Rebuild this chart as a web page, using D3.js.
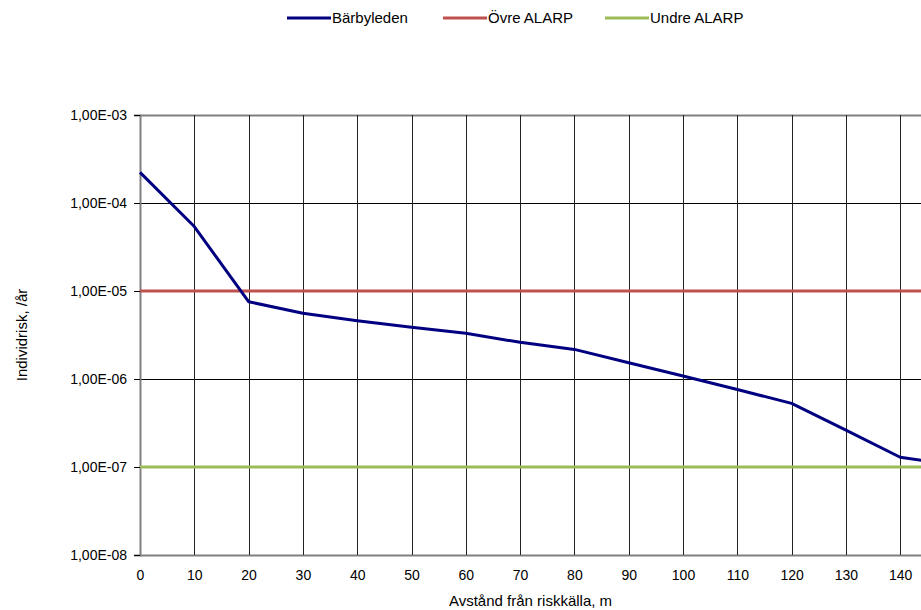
<!DOCTYPE html>
<html>
<head>
<meta charset="utf-8">
<script src="https://cdn.jsdelivr.net/npm/d3@7"></script>
<style>
  body { margin: 0; background: #fff; }
  svg text { font-family: "Liberation Sans", Arial, sans-serif; fill: #000; }
</style>
</head>
<body>
<div id="chart"></div>
<script>
// distances (m) and individual risk per year
const distances = [0, 10, 20, 30, 40, 50, 60, 70, 80, 90, 100, 110, 120, 130, 140, 150];
const barbyleden = [2.23e-4, 5.4e-5, 7.55e-6, 5.58e-6, 4.6e-6, 3.87e-6, 3.31e-6, 2.61e-6, 2.17e-6,
                    1.53e-6, 1.08e-6, 7.6e-7, 5.28e-7, 2.63e-7, 1.29e-7, 1.05e-7];
const ovreAlarp = 1e-5;
const undreAlarp = 1e-7;
const yTicks = [1e-3, 1e-4, 1e-5, 1e-6, 1e-7, 1e-8];
const xTicks = [0, 10, 20, 30, 40, 50, 60, 70, 80, 90, 100, 110, 120, 130, 140];
const seriesNames = ["Bärbyleden", "Övre ALARP", "Undre ALARP"];
const seriesColors = ["#000080", "#C0504D", "#9BBB59"];

(function() {
  const W = 921, H = 610;
  const left = 140, top = 115, bottom = 555;
  const step = 54.3; // px per 10 m

  const svg = d3.select("#chart").append("svg")
    .attr("width", W)
    .attr("height", H);

  const x = d3.scaleLinear().domain([0, 150]).range([left, left + 15 * step]);
  const y = d3.scaleLog().domain([1e-8, 1e-3]).range([bottom, top]);

  // horizontal grid
  svg.append("g").selectAll("line")
    .data(yTicks)
    .enter().append("line")
    .attr("x1", left).attr("x2", W)
    .attr("y1", d => Math.round(y(d)) + 0.5)
    .attr("y2", d => Math.round(y(d)) + 0.5)
    .attr("stroke", d => d === 1e-8 || d === 1e-3 ? "#808080" : "#000")
    .attr("stroke-width", d => d === 1e-8 || d === 1e-3 ? 2 : 1);

  // vertical grid
  svg.append("g").selectAll("line")
    .data(xTicks.slice(1))
    .enter().append("line")
    .attr("x1", d => Math.round(x(d)) + 0.5)
    .attr("x2", d => Math.round(x(d)) + 0.5)
    .attr("y1", top).attr("y2", bottom)
    .attr("stroke", "#222")
    .attr("stroke-width", 1);

  // y axis
  const yAxis = svg.append("g")
    .attr("transform", `translate(${left},0)`)
    .call(d3.axisLeft(y).tickValues(yTicks).tickSize(6).tickPadding(7)
      .tickFormat(d => d3.format(".2e")(d).replace(".", ",").replace("e-", "E-0").toUpperCase()));
  yAxis.select(".domain").attr("stroke", "#808080").attr("stroke-width", 2);
  yAxis.selectAll(".tick line").attr("stroke", "#000");
  yAxis.selectAll("text").attr("font-size", 14).attr("fill", "#000");

  // x axis (labels only)
  const xAxis = svg.append("g")
    .attr("transform", `translate(0,${bottom})`)
    .call(d3.axisBottom(x).tickValues(xTicks).tickSize(0).tickPadding(15).tickFormat(d3.format("d")));
  xAxis.select(".domain").remove();
  xAxis.selectAll("text").attr("font-size", 14).attr("fill", "#000");

  // reference lines
  [ovreAlarp, undreAlarp].forEach((v, i) => {
    svg.append("line")
      .attr("x1", left).attr("x2", W)
      .attr("y1", y(v)).attr("y2", y(v))
      .attr("stroke", seriesColors[i + 1])
      .attr("stroke-width", 3);
  });

  // main series
  const line = d3.line()
    .x((d, i) => x(distances[i]))
    .y(d => y(d));
  svg.append("path")
    .datum(barbyleden)
    .attr("fill", "none")
    .attr("stroke", seriesColors[0])
    .attr("stroke-width", 3)
    .attr("stroke-linejoin", "round")
    .attr("d", line);

  // axis titles
  svg.append("text")
    .attr("x", (left + W) / 2)
    .attr("y", 606)
    .attr("text-anchor", "middle")
    .attr("font-size", 15)
    .text("Avstånd  från riskkälla,  m");

  svg.append("text")
    .attr("transform", `translate(27,${(top + bottom) / 2}) rotate(-90)`)
    .attr("text-anchor", "middle")
    .attr("font-size", 15)
    .text("Individrisk, /år");

  // legend
  const legendX = [287, 443, 605];
  const legend = svg.append("g");
  seriesNames.forEach((name, i) => {
    legend.append("line")
      .attr("x1", legendX[i]).attr("x2", legendX[i] + 44)
      .attr("y1", 18).attr("y2", 18)
      .attr("stroke", seriesColors[i])
      .attr("stroke-width", 3);
    legend.append("text")
      .attr("x", legendX[i] + 45)
      .attr("y", 23)
      .attr("font-size", 15)
      .text(name);
  });
})();
</script>
</body>
</html>
